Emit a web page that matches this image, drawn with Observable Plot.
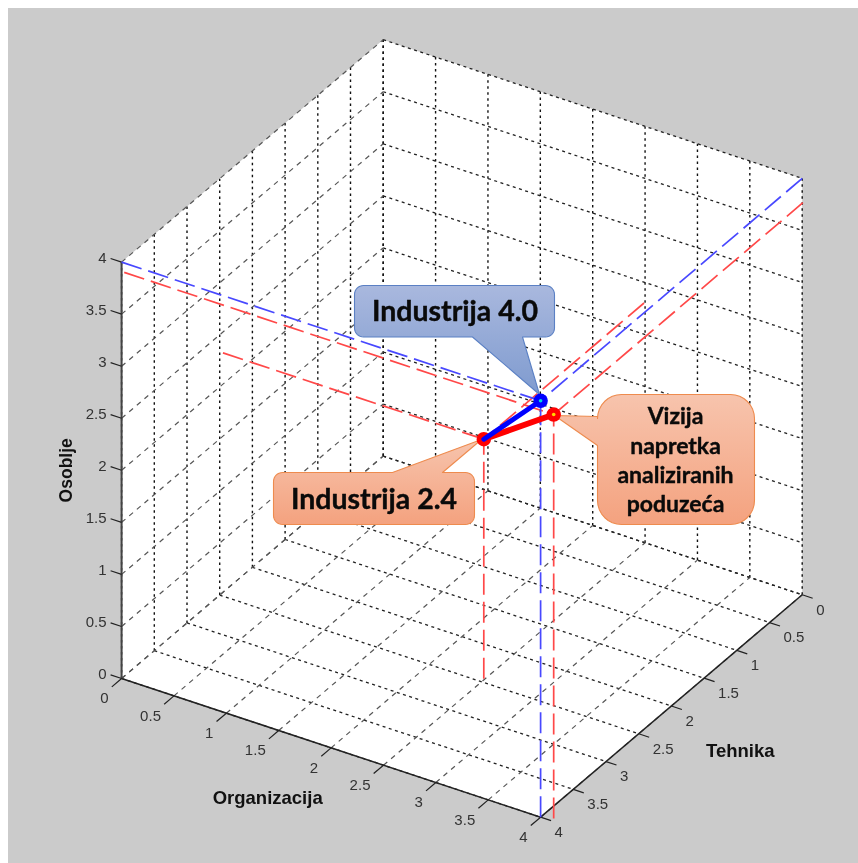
<!DOCTYPE html>
<html>
<head>
<meta charset="utf-8">
<style>html,body{margin:0;padding:0;background:#fff;overflow:hidden}svg{display:block}</style>
<script src="https://cdn.jsdelivr.net/npm/d3@7"></script>
<script src="https://cdn.jsdelivr.net/npm/@observablehq/plot@0.6"></script>
</head>
<body>
<div id="chart"></div>
<script>
// ---- chart values ----
const axisTicks = [0, 0.5, 1, 1.5, 2, 2.5, 3, 3.5, 4];
const tickLabels = ["0", "0.5", "1", "1.5", "2", "2.5", "3", "3.5", "4"];
const axisTitles = {organizacija: "Organizacija", tehnika: "Tehnika", osoblje: "Osoblje"};

// [Organizacija, Tehnika, Osoblje]
const industrija40 = [4, 4, 4];
const industrija24 = [2.49, 2.45, 2.3];
const vizija = [4.1, 3.96, 3.88];

const callout40Text = ["Industrija 4.0"];
const callout24Text = ["Industrija 2.4"];
const calloutVizijaText = ["Vizija", "napretka", "analiziranih", "poduzeća"];

// ---- view of the 3-D box ----
const view = {x0: 382.7, y0: 455.6, ox: 104.75, oy: 34.67, tx: -65.4, ty: 55.6, zy: -104.1};
const P = ([o, t, z]) => ({
  x: view.x0 + o * view.ox + t * view.tx,
  y: view.y0 + o * view.oy + t * view.ty + z * view.zy
});
const seg = (a, b) => {
  const p = P(a), q = P(b);
  return {x1: p.x, y1: p.y, x2: q.x, y2: q.y};
};

// grid
const gridVertical = [
  ...axisTicks.map(v => seg([v, 0, 0], [v, 0, 4])),
  ...axisTicks.map(v => seg([0, v, 0], [0, v, 4]))
];
const gridAlongOrg = [
  ...axisTicks.map(v => seg([0, 0, v], [4, 0, v])),
  ...axisTicks.map(v => seg([0, v, 0], [4, v, 0]))
];
const gridAlongTech = [
  ...axisTicks.map(v => seg([0, 4, v], [0, 0, v])),
  ...axisTicks.map(v => seg([v, 4, 0], [v, 0, 0]))
];
const axesLines = [seg([0, 4, 0], [4, 4, 0]), seg([4, 4, 0], [4, 0, 0])];
const zAxisLine = [seg([0, 4, 0], [0, 4, 4])];
const tickMarks = [
  ...axisTicks.map(v => seg([0, 4, v], [-0.105, 4, v])),
  ...axisTicks.map(v => seg([v, 4, 0], [v, 4.15, 0])),
  ...axisTicks.map(v => seg([4, v, 0], [4.1, v, 0]))
];
const boxFace = [[0, 4, 0], [0, 4, 4], [0, 0, 4], [4, 0, 4], [4, 0, 0], [4, 4, 0], [0, 4, 0]].map(P);

// helper lines from a point to the walls and the floor
const drop = ([o, t, z], tEnd = 0) => [
  seg([0, t, z], [o, t, z]),
  seg([o, tEnd, z], [o, t, z]),
  seg([o, t, 0], [o, t, z])
];
const blueDashes = drop(industrija40);
const redDashes = [...drop(industrija24), ...drop(vizija, 0.15)];
const redPath = [industrija24, vizija].map(P);
const bluePath = [industrija24, industrija40].map(P);
const redPoints = [industrija24, vizija].map(P);
const bluePoints = [industrija40].map(P);

// callout outline: rounded box plus pointer on one side
function callout({x1, y1, x2, y2, r, tip, base, side}) {
  const pts = [];
  const arc = (cx, cy, a0) => {
    for (let i = 0; i <= 8; ++i) {
      const a = a0 + (i / 8) * Math.PI / 2;
      pts.push({x: cx + r * Math.cos(a), y: cy + r * Math.sin(a)});
    }
  };
  arc(x1 + r, y1 + r, Math.PI);
  if (side === "top") { pts.push({x: base[0], y: y1}, tip, {x: base[1], y: y1}); }
  arc(x2 - r, y1 + r, -Math.PI / 2);
  arc(x2 - r, y2 - r, 0);
  if (side === "bottom") { pts.push({x: base[1], y: y2}, tip, {x: base[0], y: y2}); }
  arc(x1 + r, y2 - r, Math.PI / 2);
  if (side === "left") { pts.push({x: x1, y: base[1]}, tip, {x: x1, y: base[0]}); }
  pts.push(pts[0]);
  return pts;
}
const shape40 = callout({x1: 354, y1: 285, x2: 554, y2: 336.5, r: 9, side: "bottom", base: [472, 522], tip: {x: 539, y: 394}});
const shape24 = callout({x1: 273, y1: 472, x2: 474, y2: 524, r: 9, side: "top", base: [392, 442], tip: {x: 481, y: 439}});
const shapeVizija = callout({x1: 597, y1: 394, x2: 754, y2: 524, r: 24, side: "left", base: [416, 445], tip: {x: 554, y: 415}});

const defs = () => {
  const ns = "http://www.w3.org/2000/svg";
  const d = document.createElementNS(ns, "defs");
  d.innerHTML = `
    <linearGradient id="gBlue" x1="0" y1="0" x2="0" y2="1">
      <stop offset="0" stop-color="#a9b8de"/><stop offset="1" stop-color="#7f9bcf"/></linearGradient>
    <linearGradient id="gOrange" x1="0" y1="0" x2="0" y2="1">
      <stop offset="0" stop-color="#f7c4ad"/><stop offset="1" stop-color="#f4a27f"/></linearGradient>`;
  return d;
};

const axisFont = {fontFamily: "Liberation Sans", fontSize: 15, fill: "#333"};
const titleFont = {fontFamily: "Liberation Sans", fontSize: 18.5, fontWeight: "bold", fill: "#111"};
const calloutFont = {fontFamily: "Lato", fontWeight: "bold", fill: "#0a0a0a", stroke: "#0a0a0a", strokeWidth: 0.4};
const grid = (data, o) => Plot.link(data, {x1: "x1", y1: "y1", x2: "x2", y2: "y2", ...o});
const outline = (data, fill, stroke) => Plot.line(data, {x: "x", y: "y", fill, stroke, strokeWidth: 1.1});
const calloutRows = (rows, xc, yStart, step, fontSize) =>
  Plot.text(rows.map((t, i) => ({t, x: xc, y: yStart + i * step})), {x: "x", y: "y", text: "t", fontSize, ...calloutFont});

const chart = Plot.plot({
  width: 858,
  height: 863,
  margin: 0,
  style: {background: "#fff", filter: "blur(0.45px)"},
  x: {domain: [0, 858], range: [0, 858], axis: null},
  y: {domain: [0, 863], range: [0, 863], axis: null},
  marks: [
    defs,
    Plot.rect([{}], {x1: () => 8, x2: () => 870, y1: () => 8, y2: () => 875, fill: "#cbcbcb", clip: false}),
    Plot.line(boxFace, {x: "x", y: "y", fill: "#fff", stroke: "none"}),
    // grid
    grid(gridVertical, {stroke: "#111", strokeWidth: 1.4, strokeDasharray: "2.5,3.5"}),
    grid(gridAlongOrg, {stroke: "#222", strokeWidth: 1.3, strokeDasharray: "3,3.5"}),
    grid(gridAlongTech, {stroke: "#555", strokeWidth: 1.2, strokeDasharray: "5,5"}),
    // axes
    grid(axesLines, {stroke: "#222", strokeWidth: 1.5}),
    grid(zAxisLine, {stroke: "#444", strokeWidth: 2}),
    grid(tickMarks, {stroke: "#222", strokeWidth: 1.2}),
    Plot.text(axisTicks.map((v, i) => ({...P([0, 4, v]), t: tickLabels[i]})), {x: "x", y: "y", text: "t", textAnchor: "end", dx: -15, dy: -4, ...axisFont}),
    Plot.text(axisTicks.map((v, i) => ({...P([v, 4, 0]), t: tickLabels[i]})), {x: "x", y: "y", text: "t", textAnchor: "end", dx: -13, dy: 20, ...axisFont}),
    Plot.text(axisTicks.map((v, i) => ({...P([4, v, 0]), t: tickLabels[i]})), {x: "x", y: "y", text: "t", textAnchor: "start", dx: 14, dy: 15, ...axisFont}),
    Plot.text([{...P([2.05, 5.05, 0]), t: axisTitles.organizacija}], {x: "x", y: "y", text: "t", dy: -10, ...titleFont}),
    Plot.text([{...P([4.62, 2.2, 0]), t: axisTitles.tehnika}], {x: "x", y: "y", text: "t", dx: 17, dy: 12, ...titleFont}),
    Plot.text([{...P([0, 4, 2]), t: axisTitles.osoblje}], {x: "x", y: "y", text: "t", rotate: -90, dx: -55.5, dy: 0, ...titleFont, fontSize: 17.5}),
    // data helper lines
    grid(redDashes, {stroke: "#ff4848", strokeWidth: 1.7, strokeDasharray: "21,7"}),
    grid(blueDashes, {stroke: "#4848ff", strokeWidth: 1.7, strokeDasharray: "21,7"}),
    // callouts
    outline(shape40, "url(#gBlue)", "#5b80c4"),
    outline(shape24, "url(#gOrange)", "#ee8b4e"),
    outline(shapeVizija, "url(#gOrange)", "#ee8b4e"),
    calloutRows(callout40Text, 454.5, 311, 0, 28.5),
    calloutRows(callout24Text, 373.5, 499, 0, 28.5),
    calloutRows(calloutVizijaText, 675, 416.5, 29.3, 23),
    // series
    Plot.line(redPath, {x: "x", y: "y", stroke: "#f00", strokeWidth: 6}),
    Plot.dot(redPoints, {x: "x", y: "y", r: 6.5, fill: "#f00", stroke: "#f00", strokeWidth: 1.5}),
    Plot.dot(redPoints, {x: "x", y: "y", r: 1.8, fill: "#ffd800", stroke: "none"}),
    Plot.line(bluePath, {x: "x", y: "y", stroke: "#00f", strokeWidth: 5}),
    Plot.dot(bluePoints, {x: "x", y: "y", r: 6.5, fill: "#00f", stroke: "#00f", strokeWidth: 1.5}),
    Plot.dot(bluePoints, {x: "x", y: "y", r: 1.8, fill: "#00d8e0", stroke: "none"})
  ]
});
document.getElementById("chart").appendChild(chart);
</script>
</body>
</html>
